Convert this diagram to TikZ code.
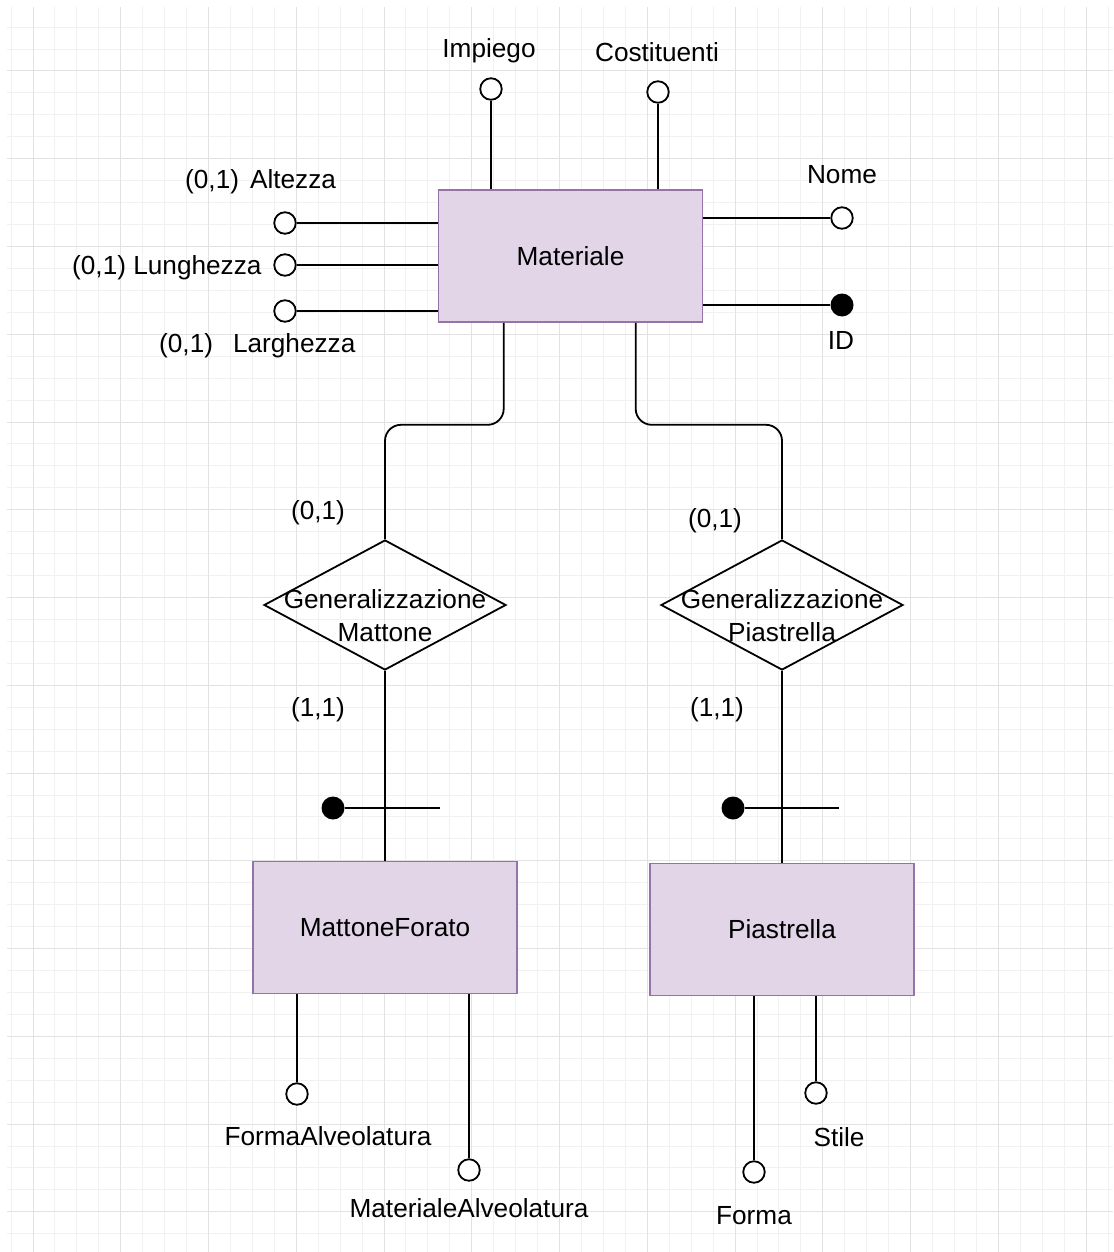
\documentclass[tikz,border=0pt]{standalone}
\usepackage{fontspec}
\setmainfont{Liberation Sans}
\usetikzlibrary{shapes.geometric}
\definecolor{entfill}{HTML}{E1D5E7}
\definecolor{entline}{HTML}{9673A6}
\definecolor{gridminor}{HTML}{F1F1F1}
\definecolor{gridmajor}{HTML}{E2E2E2}
\begin{document}
\begin{tikzpicture}[x=1pt,y=-1pt,
  every node/.style={font=\fontsize{26.2}{33}\selectfont, text=black},
  entity/.style={draw=entline, fill=entfill, line width=1.6pt,
    minimum width=264, minimum height=132, inner sep=0},
  relation/.style={diamond, draw=black, line width=1.8pt,
    minimum width=242, minimum height=130, inner sep=0},
  attr/.style={circle, draw=black, fill=white, line width=1.8pt,
    minimum size=21.5, inner sep=0},
  keyattr/.style={circle, fill=black, minimum size=23, inner sep=0},
  conn/.style={draw=black, line width=1.8pt},
  lbl/.style={anchor=base, inner sep=0},
  lblw/.style={anchor=base west, inner sep=0}]

% page and background grid
\useasboundingbox (0,0) rectangle (1113,1252);
\fill[white] (0,0) rectangle (1113,1252);
\foreach \i in {0,...,50} \draw[gridminor, line width=1pt] ({11.06+\i*21.94},7) -- ({11.06+\i*21.94},1252);
\foreach \i in {0,...,55} \draw[gridminor, line width=1pt] (7,{27.1+\i*21.94}) -- (1113,{27.1+\i*21.94});
\foreach \i in {0,...,12} \draw[gridmajor, line width=1pt] ({33+\i*87.75},7) -- ({33+\i*87.75},1252);
\foreach \i in {0,...,13} \draw[gridmajor, line width=1pt] (7,{71+\i*87.75}) -- (1113,{71+\i*87.75});

% entities
\node[entity] (mat) at (570.5,256) {Materiale};
\node[entity] (mf) at (385,927.5) {MattoneForato};
\node[entity] (pi) at (782,929.5) {Piastrella};

% generalisations
\node[relation] (gm) at (385,605) {};
\node[relation] (gp) at (782,605) {};
\node[align=center, inner sep=0] (gmt) at (385,616) {Generalizzazione\\Mattone};
\node[align=center, inner sep=0] (gpt) at (782,616) {Generalizzazione\\Piastrella};

% attributes of Materiale
\node[attr] (imp) at (491,89) {};
\node[attr] (cost) at (658,92) {};
\node[attr] (nome) at (842,218) {};
\node[keyattr] (id) at (842,305) {};
\node[attr] (alt) at (285,223) {};
\node[attr] (lun) at (285,265) {};
\node[attr] (lar) at (285,311) {};
\draw[conn] (imp) -- (imp |- mat.north);
\draw[conn] (cost) -- (cost |- mat.north);
\draw[conn] (nome) -- (nome -| mat.east);
\draw[conn] (id) -- (id -| mat.east);
\draw[conn] (alt) -- (alt -| mat.west);
\draw[conn] (lun) -- (lun -| mat.west);
\draw[conn] (lar) -- (lar -| mat.west);

\node[lbl] (impl) at (489,58) {Impiego};
\node[lbl] (costl) at (657,62) {Costituenti};
\node[lbl] (nomel) at (842,184) {Nome};
\node[lbl] (idl) at (841,349) {ID};
\node[lblw] (altl) at (185,189) {(0,1)\hspace{11pt}Altezza};
\node[lblw] (lunl) at (72,274) {(0,1) Lunghezza};
\node[lblw] (larl) at (159,352) {(0,1)\hspace{20pt}Larghezza};

% links to the generalisations
\draw[conn, rounded corners=16] ([xshift=66]mat.south west) -- ++(0,102) -| (gm.north);
\draw[conn, rounded corners=16] ([xshift=198]mat.south west) -- ++(0,102) -| (gp.north);
\draw[conn] (gm.south) -- (mf.north);
\draw[conn] (gp.south) -- (pi.north);

\node[lbl] (c1) at (318,519) {(0,1)};
\node[lbl] (c2) at (715,527) {(0,1)};
\node[lbl] (c3) at (318,716) {(1,1)};
\node[lbl] (c4) at (717,716) {(1,1)};

% external identifiers
\node[keyattr] (mk) at (333,808) {};
\node[keyattr] (pk) at (733,808) {};
\coordinate (mke) at (440,808);
\coordinate (pke) at (839,808);
\draw[conn] (mk) -- (mke);
\draw[conn] (pk) -- (pke);

% attributes of the sub-entities
\node[attr] (fa) at (297,1094) {};
\node[attr] (ma) at (469,1170) {};
\node[attr] (fo) at (754,1172) {};
\node[attr] (st) at (816,1093) {};
\draw[conn] (fa) -- (fa |- mf.south);
\draw[conn] (ma) -- (ma |- mf.south);
\draw[conn] (fo) -- (fo |- pi.south);
\draw[conn] (st) -- (st |- pi.south);

\node[lbl] (fal) at (328,1145) {FormaAlveolatura};
\node[lbl] (mal) at (469,1217) {MaterialeAlveolatura};
\node[lbl] (fol) at (754,1224) {Forma};
\node[lbl] (stl) at (839,1146) {Stile};
\end{tikzpicture}
\end{document}
